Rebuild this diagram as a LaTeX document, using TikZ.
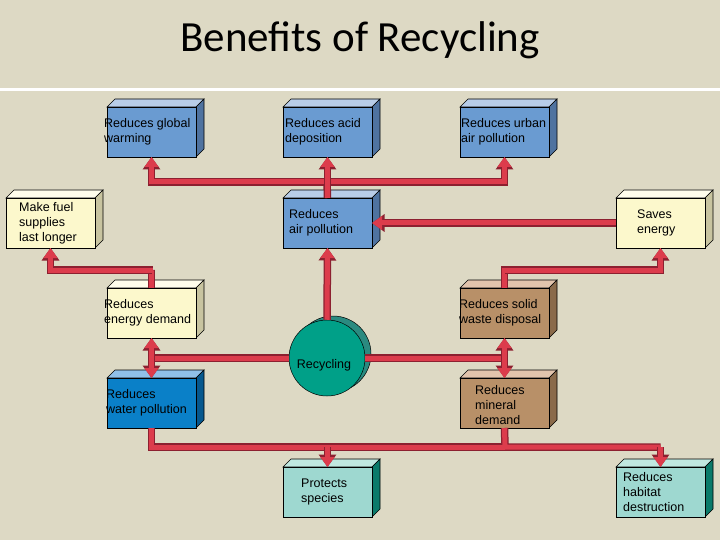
\documentclass[tikz,border=0pt]{standalone}
\usepackage{fontspec}
\setmainfont{Liberation Sans}
\newfontfamily\titlefont{Carlito}
\usetikzlibrary{arrows.meta}
\definecolor{bg}{HTML}{DDD9C4}
\definecolor{arr}{HTML}{DC3C4C}
\definecolor{arrd}{HTML}{8C2030}
\definecolor{bF}{HTML}{6A9BD1}\definecolor{bT}{HTML}{B8CDE8}\definecolor{bS}{HTML}{4F73A0}
\definecolor{yF}{HTML}{FCF8CC}\definecolor{yT}{HTML}{FFFDEC}\definecolor{yS}{HTML}{C8C4A0}
\definecolor{nF}{HTML}{B89068}\definecolor{nT}{HTML}{E2C4AC}\definecolor{nS}{HTML}{8A6A4A}
\definecolor{wF}{HTML}{0A80C8}\definecolor{wT}{HTML}{90C0E8}\definecolor{wS}{HTML}{06588E}
\definecolor{tF}{HTML}{9ED8D0}\definecolor{tT}{HTML}{C0E8E0}\definecolor{tS}{HTML}{0A7A6A}
\definecolor{cF}{HTML}{00A088}\definecolor{cB}{HTML}{2A8A80}
\newcommand{\mycube}[6]{%
 \fill[#5,draw=black,line width=0.6pt] (#2,#3) -- ++(8,-8) -- ++(89,0) -- ++(-8,8) -- cycle;
 \fill[#6,draw=black,line width=0.6pt] (#2+89,#3) -- ++(8,-8) -- ++(0,50) -- ++(-8,8) -- cycle;
 \node[box,fill=#4,anchor=north west] (#1) at (#2,#3) {};}
\begin{document}
\begin{tikzpicture}[x=1pt,y=-1pt,
 box/.style={draw=black,line width=0.6pt,minimum width=89pt,minimum height=50pt,inner sep=0pt,outer sep=0pt},
 txt/.style={anchor=west,align=left,font=\fontsize{12.5}{14.8}\selectfont,inner sep=0pt},
 o/.style={arrd,line width=7.5pt},
 r/.style={arr,line width=5pt},
 ot/.style={-{Triangle[width=17pt,length=12.5pt]}},
 rt/.style={-{Triangle[width=13.5pt,length=10pt]}},
 ob/.style={{Triangle[width=17pt,length=12.5pt]}-{Triangle[width=17pt,length=12.5pt]}},
 rb/.style={{Triangle[width=13.5pt,length=10pt]}-{Triangle[width=13.5pt,length=10pt]}}]
\fill[bg] (0,0) rectangle (720,540);
\fill[white] (0,88) rectangle (720,91);
\node[font=\titlefont\fontsize{43}{46}\selectfont] (title) at (360,40) {Benefits of Recycling};
% boxes
\mycube{gw}{107}{107}{bF}{bT}{bS}
\mycube{ad}{283}{107}{bF}{bT}{bS}
\mycube{ua}{460}{107}{bF}{bT}{bS}
\mycube{mf}{6}{198}{yF}{yT}{yS}
\mycube{ap}{283}{198}{bF}{bT}{bS}
\mycube{se}{616}{198}{yF}{yT}{yS}
\mycube{ed}{107}{288}{yF}{yT}{yS}
\mycube{sw}{460}{288}{nF}{nT}{nS}
\mycube{wp}{107}{378}{wF}{wT}{wS}
\mycube{md}{460}{378}{nF}{nT}{nS}
\mycube{ps}{283}{467}{tF}{tT}{tS}
\mycube{hd}{616}{467}{tF}{tT}{tS}
% recycling
\fill[cB,draw=black,line width=0.5pt] (333,354) circle (38);
\node[circle,fill=cF,draw=black,line width=0.5pt,minimum size=76pt,inner sep=0pt] (rc) at (327,358) {};
% connectors
\coordinate (b1) at (327,182);
\coordinate (b2) at (152,270);
\coordinate (b3) at (505,270);
\coordinate (b4) at (152,447);
\coordinate (b5) at (505,447);
\foreach \s in {o,r}{
 \draw[\s] (ap.north) -- (b1);
 \draw[\s] (ed.north) |- (b2);
 \draw[\s] (sw.north) |- (b3);
 \draw[\s] (rc.east) -- (rc.east -| sw.south);
 \draw[\s] (rc.west) -- (rc.west -| ed.south);
 \draw[\s] (wp.south) |- (b5);
 \draw[\s] (md.south) -- (b5) -- (b5 -| hd.north);
}
\draw[o,ot] (b1) -| (gw.south); \draw[r,rt] (b1) -| (gw.south);
\draw[o,ot] (b1) -| (ua.south); \draw[r,rt] (b1) -| (ua.south);
\draw[o,ot] (ap.north) -- (ad.south); \draw[r,rt] (ap.north) -- (ad.south);
\draw[o,ot] (se.west) -- (ap.east); \draw[r,rt] (se.west) -- (ap.east);
\draw[o,ot] (rc.north) -- (ap.south); \draw[r,rt] (rc.north) -- (ap.south);
\draw[o,ot] (b2) -| (mf.south); \draw[r,rt] (b2) -| (mf.south);
\draw[o,ot] (b3) -| (se.south); \draw[r,rt] (b3) -| (se.south);
\draw[o,ob] (ed.south) -- (wp.north); \draw[r,rb] (ed.south) -- (wp.north);
\draw[o,ob] (sw.south) -- (md.north); \draw[r,rb] (sw.south) -- (md.north);
\draw[o,ot] (b5 -| ps.north) -- (ps.north); \draw[r,rt] (b5 -| ps.north) -- (ps.north);
\draw[o,ot] (b5 -| hd.north) -- (hd.north); \draw[r,rt] (b5 -| hd.north) -- (hd.north);
% texts
\node[txt] (gwt) at ([xshift=-3pt]gw.west) {Reduces global\\warming};
\node[txt] (adt) at ([xshift=2pt]ad.west) {Reduces acid\\deposition};
\node[txt] (uat) at ([xshift=1pt]ua.west) {Reduces urban\\air pollution};
\node[txt] (mft) at ([xshift=13pt]mf.west) {Make fuel\\supplies\\last longer};
\node[txt] (apt) at ([xshift=6pt]ap.west) {Reduces\\air pollution};
\node[txt] (set) at ([xshift=21pt]se.west) {Saves\\energy};
\node[txt] (edt) at ([xshift=-3pt]ed.west) {Reduces\\energy demand};
\node[txt] (swt) at ([xshift=-1pt]sw.west) {Reduces solid\\waste disposal};
\node[txt] (wpt) at ([xshift=-1pt]wp.west) {Reduces\\water pollution};
\node[txt] (mdt) at ([xshift=15pt,yshift=-2pt]md.west) {Reduces\\mineral\\demand};
\node[txt] (pst) at ([xshift=18pt]ps.west) {Protects\\species};
\node[txt] (hdt) at ([xshift=7pt]hd.west) {Reduces\\habitat\\destruction};
\node[txt,anchor=center] (rct) at (324,365) {Recycling};
\end{tikzpicture}
\end{document}
